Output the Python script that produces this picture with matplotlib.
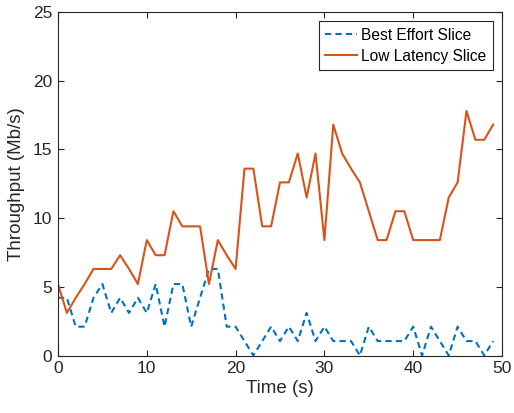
import matplotlib
matplotlib.use('Agg')
import matplotlib.pyplot as plt

# time axis (s), one sample per second
time_s = list(range(50))

best_effort = [4.2, 4.2, 2.1, 2.1, 4.2, 5.2, 3.1, 4.2, 3.1, 4.2,
               3.1, 5.2, 2.1, 5.2, 5.2, 2.1, 4.2, 6.3, 6.3, 2.1,
               2.1, 1.05, 0, 1.05, 2.1, 1.05, 2.1, 1.05, 3.1, 1.05,
               2.1, 1.05, 1.05, 1.05, 0, 2.1, 1.05, 1.05, 1.05, 1.05,
               2.1, 0, 2.1, 1.05, 0, 2.1, 1.05, 1.05, 0, 1.05]

low_latency = [5.2, 3.1, 4.2, 5.2, 6.3, 6.3, 6.3, 7.3, 6.3, 5.2,
               8.4, 7.3, 7.3, 10.5, 9.4, 9.4, 9.4, 5.2, 8.4, 7.3,
               6.3, 13.6, 13.6, 9.4, 9.4, 12.6, 12.6, 14.7, 11.5, 14.7,
               8.4, 16.8, 14.7, 13.6, 12.6, 10.5, 8.4, 8.4, 10.5, 10.5,
               8.4, 8.4, 8.4, 8.4, 11.5, 12.6, 17.8, 15.7, 15.7, 16.8]

x_ticks = [0, 10, 20, 30, 40, 50]
y_ticks = [0, 5, 10, 15, 20, 25]

plt.rcParams['font.family'] = ['Liberation Sans', 'DejaVu Sans']
axis_color = '#262626'

fig = plt.figure(figsize=(5.14, 4.13), dpi=100)
ax = fig.add_axes([0.1128, 0.1392, 0.8639, 0.8318])

ax.plot(time_s, best_effort, color='#0072BD', linewidth=1.5,
        linestyle='--', dashes=(3, 2), label='Best Effort Slice')
ax.plot(time_s, low_latency, color='#D95319', linewidth=1.5,
        label='Low Latency Slice')

ax.set_xlim(0, 50)
ax.set_ylim(0, 25)
ax.set_xticks(x_ticks)
ax.set_yticks(y_ticks)
ax.tick_params(direction='in', top=True, right=True, length=4,
               width=0.8, color=axis_color, labelsize=12.5,
               labelcolor=axis_color, pad=4)
for s in ax.spines.values():
    s.set_color(axis_color)
    s.set_linewidth(0.8)

ax.set_xlabel('Time (s)', fontsize=13.5, color=axis_color, labelpad=3)
ax.set_ylabel('Throughput (Mb/s)', fontsize=13.5, color=axis_color, labelpad=6)

leg = ax.legend(loc='upper right', fontsize=11.2, handlelength=2.0,
                handletextpad=0.3, borderaxespad=0.6, borderpad=0.4,
                labelspacing=0.4, fancybox=False, framealpha=1)
leg.get_frame().set_edgecolor(axis_color)
leg.get_frame().set_linewidth(0.8)

fig.savefig('out.png', dpi=100)
